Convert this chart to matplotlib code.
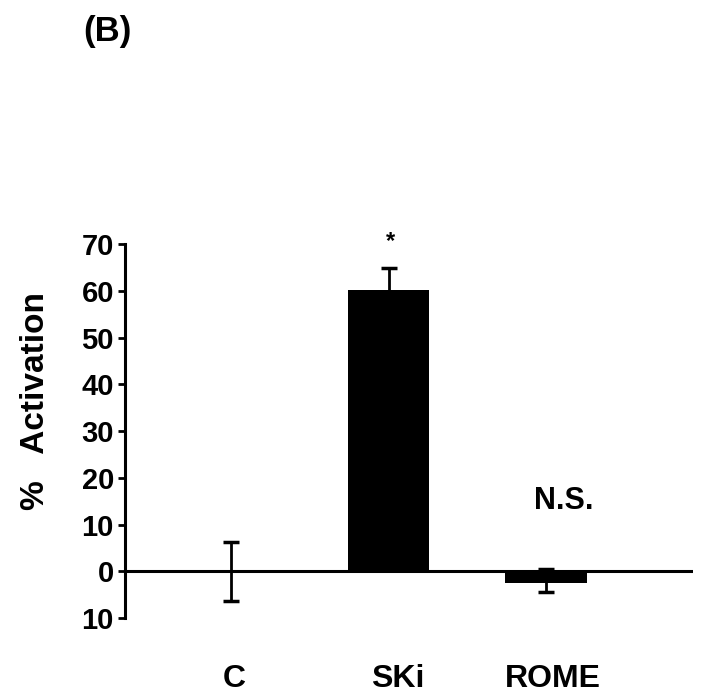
import matplotlib.pyplot as plt
from matplotlib.ticker import FuncFormatter

plt.rcParams['font.family'] = ['Liberation Sans', 'DejaVu Sans']
plt.rcParams['font.weight'] = 'bold'

groups = ['C', 'SKi', 'ROME']
activation = [0.0, 60.2, -2.6]
err_low = [6.3, 4.6, 1.9]
err_high = [6.3, 4.6, 3.1]
marks = ['', '*', 'N.S.']
mark_y = [0, 70.5, 15]

fig = plt.figure(figsize=(7.03, 6.98), dpi=100)
ax = fig.add_axes([0.1778, 0.1146, 0.808, 0.5358])

x = list(range(len(groups)))
ax.bar(x, activation, width=0.52, color='black', zorder=2)
ax.errorbar(x, activation, yerr=[err_low, err_high], fmt='none',
            ecolor='black', elinewidth=2, capsize=6, capthick=2.5, zorder=1)
ax.axhline(0, color='black', lw=2.2, zorder=4)

# star sits over the bar, N.S. a little to the right of it
mark_dx = [0, 0.01, 0.11]
for xi, m, my, dx in zip(x, marks, mark_y, mark_dx):
    if m:
        ax.text(xi + dx, my, m, ha='center', va='center',
                fontsize=17 if m == '*' else 22, fontweight='bold')

ax.set_xlim(-0.673, 2.933)
ax.set_ylim(-10, 70)
ax.set_yticks(range(-10, 71, 10))
ax.yaxis.set_major_formatter(FuncFormatter(lambda v, p: f'{abs(int(v))}'))
ax.tick_params(axis='y', length=5, width=2, labelsize=21, pad=3)
label_dx = [0.02, 0.06, 0.045]
ax.set_xticks([xi + d for xi, d in zip(x, label_dx)])
ax.set_xticklabels(groups, fontsize=23, fontweight='bold')
ax.tick_params(axis='x', length=0, pad=33)

for s in ['top', 'right', 'bottom']:
    ax.spines[s].set_visible(False)
ax.spines['left'].set_linewidth(2.2)

ax.set_ylabel('%   Activation', fontsize=24, fontweight='bold')
ax.yaxis.set_label_coords(-0.13, 0.58)
fig.text(0.153, 0.955, '(B)', ha='center', va='center', fontsize=25, fontweight='bold')

fig.savefig('out.png', dpi=100)
